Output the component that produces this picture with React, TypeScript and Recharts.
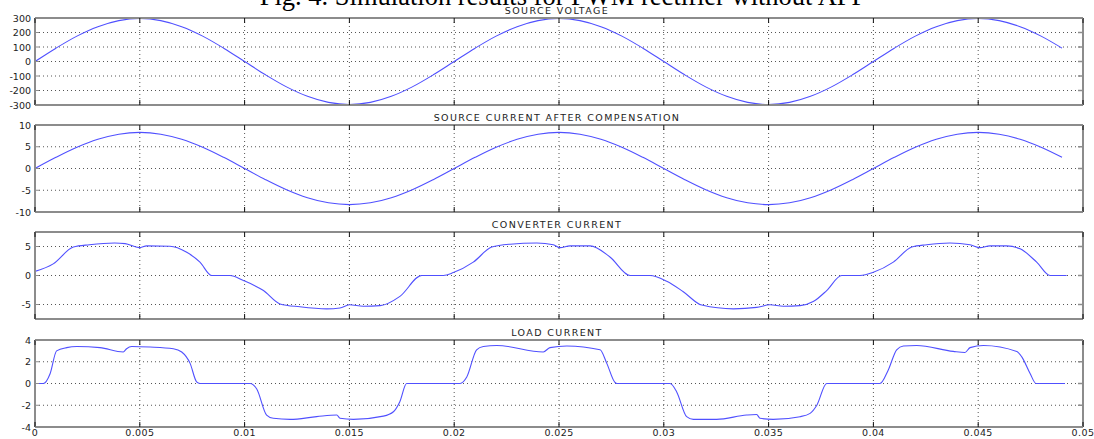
import React from 'react';
import { LineChart, Line, XAxis, YAxis, CartesianGrid } from 'recharts';

// ---------- data ----------
const xTicks = [0, 0.005, 0.01, 0.015, 0.02, 0.025, 0.03, 0.035, 0.04, 0.045, 0.05];
const xTickLabels = ['0', '0.005', '0.01', '0.015', '0.02', '0.025', '0.03', '0.035', '0.04', '0.045', '0.05'];

const sineTime = [
  0, 0.001, 0.002, 0.003, 0.004, 0.005, 0.006, 0.007, 0.008, 0.009,
  0.01, 0.011, 0.012, 0.013, 0.014, 0.015, 0.016, 0.017, 0.018, 0.019,
  0.02, 0.021, 0.022, 0.023, 0.024, 0.025, 0.026, 0.027, 0.028, 0.029,
  0.03, 0.031, 0.032, 0.033, 0.034, 0.035, 0.036, 0.037, 0.038, 0.039,
  0.04, 0.041, 0.042, 0.043, 0.044, 0.045, 0.046, 0.047, 0.048, 0.049,
];

const sourceVoltage = [
  0, 92, 175, 240, 282, 297, 282, 240, 175, 92,
  0, -92, -175, -240, -282, -297, -282, -240, -175, -92,
  0, 92, 175, 240, 282, 297, 282, 240, 175, 92,
  0, -92, -175, -240, -282, -297, -282, -240, -175, -92,
  0, 92, 175, 240, 282, 297, 282, 240, 175, 92,
];

const sourceCurrent = [
  0, 2.56, 4.88, 6.71, 7.89, 8.3, 7.89, 6.71, 4.88, 2.56,
  0, -2.56, -4.88, -6.71, -7.89, -8.3, -7.89, -6.71, -4.88, -2.56,
  0, 2.56, 4.88, 6.71, 7.89, 8.3, 7.89, 6.71, 4.88, 2.56,
  0, -2.56, -4.88, -6.71, -7.89, -8.3, -7.89, -6.71, -4.88, -2.56,
  0, 2.56, 4.88, 6.71, 7.89, 8.3, 7.89, 6.71, 4.88, 2.56,
];

const converterTime = [
  0, 0.00087, 0.00183, 0.0026, 0.0038, 0.0043, 0.00497, 0.00533, 0.00644, 0.00724,
  0.00787, 0.00843, 0.0093, 0.00994, 0.0109, 0.01169, 0.01264, 0.01392, 0.01455, 0.015,
  0.01566, 0.01646, 0.01741, 0.01845, 0.01948, 0.01996, 0.02091, 0.02179, 0.02266, 0.02394,
  0.02473, 0.02505, 0.02553, 0.02648, 0.02743, 0.02839, 0.02934, 0.03014, 0.03093, 0.03181,
  0.03332, 0.03443, 0.03507, 0.0357, 0.0365, 0.03713, 0.03777, 0.03849, 0.03936, 0.04,
  0.04095, 0.04183, 0.04254, 0.04365, 0.04461, 0.04509, 0.04556, 0.04636, 0.047, 0.04779,
  0.04843, 0.04922,
];
const converterCurrent = [
  0.7, 2.0, 4.9, 5.3, 5.6, 5.5, 4.8, 5.1, 5.05, 4.0,
  2.3, 0, 0, -0.86, -2.6, -4.9, -5.4, -5.75, -5.6, -5.05,
  -5.3, -5.2, -3.6, 0, 0, 0.5, 2.3, 4.9, 5.4, 5.6,
  5.3, 4.8, 5.1, 5.1, 3.2, 0, 0, -1.0, -2.8, -5.1,
  -5.75, -5.5, -5.05, -5.3, -5.2, -4.5, -2.6, 0, 0, 0.55,
  2.3, 4.9, 5.3, 5.6, 5.3, 4.8, 5.1, 5.1, 4.6, 2.3,
  0, 0,
];

const loadTime = [
  0, 0.0004, 0.00072, 0.00103, 0.00151, 0.002, 0.0031, 0.00421, 0.00437, 0.00461,
  0.00549, 0.0066, 0.007, 0.0074, 0.00771, 0.00787, 0.01026, 0.01058, 0.01105, 0.01137,
  0.01217, 0.01344, 0.0144, 0.01455, 0.01519, 0.01662, 0.0171, 0.0174, 0.01773, 0.02028,
  0.0206, 0.02107, 0.02139, 0.02203, 0.02425, 0.02457, 0.02537, 0.02696, 0.02728, 0.02767,
  0.02775, 0.0303, 0.03061, 0.03109, 0.03141, 0.03252, 0.03395, 0.03443, 0.03459, 0.03522,
  0.0365, 0.03698, 0.0373, 0.03777, 0.04031, 0.04071, 0.04111, 0.04143, 0.04206, 0.04381,
  0.04437, 0.04461, 0.04525, 0.04684, 0.04708, 0.04747, 0.04776, 0.04914,
];
const loadCurrent = [
  0, 0, 0.9, 3.0, 3.3, 3.4, 3.3, 2.9, 3.2, 3.4,
  3.35, 3.2, 2.9, 1.85, 0.15, 0, 0, -0.5, -2.9, -3.2,
  -3.3, -3.05, -2.9, -3.2, -3.3, -3.0, -2.6, -1.7, 0, 0,
  0.6, 3.1, 3.4, 3.5, 2.9, 3.3, 3.45, 3.1, 1.85, 0.1,
  0, 0, -0.75, -3.05, -3.3, -3.3, -2.9, -2.85, -3.2, -3.3,
  -3.05, -2.75, -2.0, 0, 0, 1.25, 3.1, 3.45, 3.5, 2.95,
  2.85, 3.3, 3.5, 2.95, 2.45, 0.95, 0, 0,
];

const voltageTicks = [-300, -200, -100, 0, 100, 200, 300];
const sourceCurrentTicks = [-10, -5, 0, 5, 10];
const converterTicks = [-5, 0, 5];
const loadTicks = [-4, -2, 0, 2, 4];

const panelTitles = ['SOURCE VOLTAGE', 'SOURCE CURRENT AFTER COMPENSATION', 'CONVERTER CURRENT', 'LOAD CURRENT'];
const caption = 'Fig. 4. Simulation results for PWM rectifier without APF';

const zip = (ts: number[], vs: number[]) => ts.map((t, i) => ({ t, v: vs[i] }));

// ---------- layout ----------
const W = 1094;
const H = 439;
const PLOT_LEFT = 35;
const PLOT_RIGHT = 1083;
const PLOT_H = 87;
const MT = 20;
const FRAME = '#8c8c8c';
const LINE = '#5050ff';
const TXT = '#222';
const FONT = '"DejaVu Sans", sans-serif';

const fmtX = (v: number) => {
  const i = xTicks.findIndex((t) => Math.abs(t - v) < 1e-9);
  return i >= 0 ? xTickLabels[i] : String(v);
};

const BottomTick = (showLabels: boolean) => (props: any) => {
  const { x, y, payload } = props;
  return (
    <g>
      <line x1={x} y1={y} x2={x} y2={y - 5} stroke="#111" strokeWidth={1} />
      {showLabels && (
        <text x={x} y={y + 9} textAnchor="middle" fontSize={9.5} fontFamily={FONT} fill={TXT} letterSpacing={0.4}>
          {fmtX(payload.value)}
        </text>
      )}
    </g>
  );
};

const TopTick = (props: any) => {
  const { x, y } = props;
  return <line x1={x} y1={y} x2={x} y2={y + 5} stroke="#111" strokeWidth={1} />;
};

const LeftTick = (props: any) => {
  const { x, y, payload } = props;
  return (
    <g>
      <line x1={x} y1={y} x2={x + 4} y2={y} stroke={FRAME} strokeWidth={1} />
      <text x={x - 4} y={y + 3.5} textAnchor="end" fontSize={9.5} fontFamily={FONT} fill={TXT}>
        {payload.value}
      </text>
    </g>
  );
};

const RightTick = (props: any) => {
  const { x, y } = props;
  return <line x1={x} y1={y} x2={x - 5} y2={y} stroke={FRAME} strokeWidth={1.5} />;
};

type PanelProps = {
  data: { t: number; v: number }[];
  yDomain: [number, number];
  yTicks: number[];
  plotTop: number;
  bottomSpace: number;
  showXLabels: boolean;
};

const Panel = ({ data, yDomain, yTicks, plotTop, bottomSpace, showXLabels }: PanelProps) => {
  const top = plotTop - MT - 1;
  const height = MT + 1 + PLOT_H + 1 + bottomSpace;
  return (
    <div style={{ position: 'absolute', left: 0, top, width: W, height }}>
      <LineChart
        width={W}
        height={height}
        data={data}
        margin={{ top: MT, right: W - PLOT_RIGHT - 1, bottom: bottomSpace, left: 0 }}
      >
        <CartesianGrid stroke="#555" strokeDasharray="1 3" strokeWidth={1} />
        <XAxis
          dataKey="t"
          type="number"
          domain={[0, 0.05]}
          ticks={xTicks}
          interval={0}
          height={1}
          allowDataOverflow
          axisLine={{ stroke: FRAME, strokeWidth: 2 }}
          tickLine={false}
          tickSize={0}
          tickMargin={0}
          tick={BottomTick(showXLabels)}
        />
        <XAxis
          xAxisId="top"
          orientation="top"
          dataKey="t"
          type="number"
          domain={[0, 0.05]}
          ticks={xTicks}
          interval={0}
          height={1}
          allowDataOverflow
          axisLine={{ stroke: FRAME, strokeWidth: 2 }}
          tickLine={false}
          tickSize={0}
          tickMargin={0}
          tick={TopTick}
        />
        <YAxis
          type="number"
          domain={yDomain}
          ticks={yTicks}
          interval={0}
          width={PLOT_LEFT}
          allowDataOverflow
          axisLine={{ stroke: FRAME, strokeWidth: 2 }}
          tickLine={false}
          tickSize={0}
          tickMargin={0}
          tick={LeftTick}
        />
        <YAxis
          yAxisId="right"
          orientation="right"
          type="number"
          domain={yDomain}
          ticks={yTicks}
          interval={0}
          width={1}
          allowDataOverflow
          axisLine={{ stroke: FRAME, strokeWidth: 2 }}
          tickLine={false}
          tickSize={0}
          tickMargin={0}
          tick={RightTick}
        />
        <Line
          type="monotone"
          dataKey="v"
          stroke={LINE}
          strokeWidth={1.1}
          dot={false}
          isAnimationActive={false}
        />
      </LineChart>
    </div>
  );
};

const plotTops = [18, 125, 232, 340];

export default function App() {
  const cx = (PLOT_LEFT + PLOT_RIGHT) / 2 - 2;
  return (
    <div style={{ position: 'absolute', left: 0, top: 0, width: W, height: H, overflow: 'hidden', background: '#fff' }}>
      <Panel data={zip(sineTime, sourceVoltage)} yDomain={[-300, 300]} yTicks={voltageTicks} plotTop={plotTops[0]} bottomSpace={12} showXLabels={false} />
      <Panel data={zip(sineTime, sourceCurrent)} yDomain={[-10, 10]} yTicks={sourceCurrentTicks} plotTop={plotTops[1]} bottomSpace={12} showXLabels={false} />
      <Panel data={zip(converterTime, converterCurrent)} yDomain={[-7.5, 7.5]} yTicks={converterTicks} plotTop={plotTops[2]} bottomSpace={12} showXLabels={false} />
      <Panel data={zip(loadTime, loadCurrent)} yDomain={[-4, 4]} yTicks={loadTicks} plotTop={plotTops[3]} bottomSpace={12} showXLabels={true} />
      <svg width={W} height={H} style={{ position: 'absolute', left: 0, top: 0, pointerEvents: 'none' }}>
        <text x={563} y={4.5} textAnchor="middle" fontSize={26.5} fontFamily='"Liberation Serif", "Times New Roman", serif' fill="#000">
          {caption}
        </text>
        {panelTitles.map((t, i) => (
          <text key={t} x={cx} y={plotTops[i] - 4} textAnchor="middle" fontSize={9.5} fontFamily={FONT} fill={TXT} letterSpacing={1.4}>
            {t}
          </text>
        ))}
      </svg>
    </div>
  );
}
